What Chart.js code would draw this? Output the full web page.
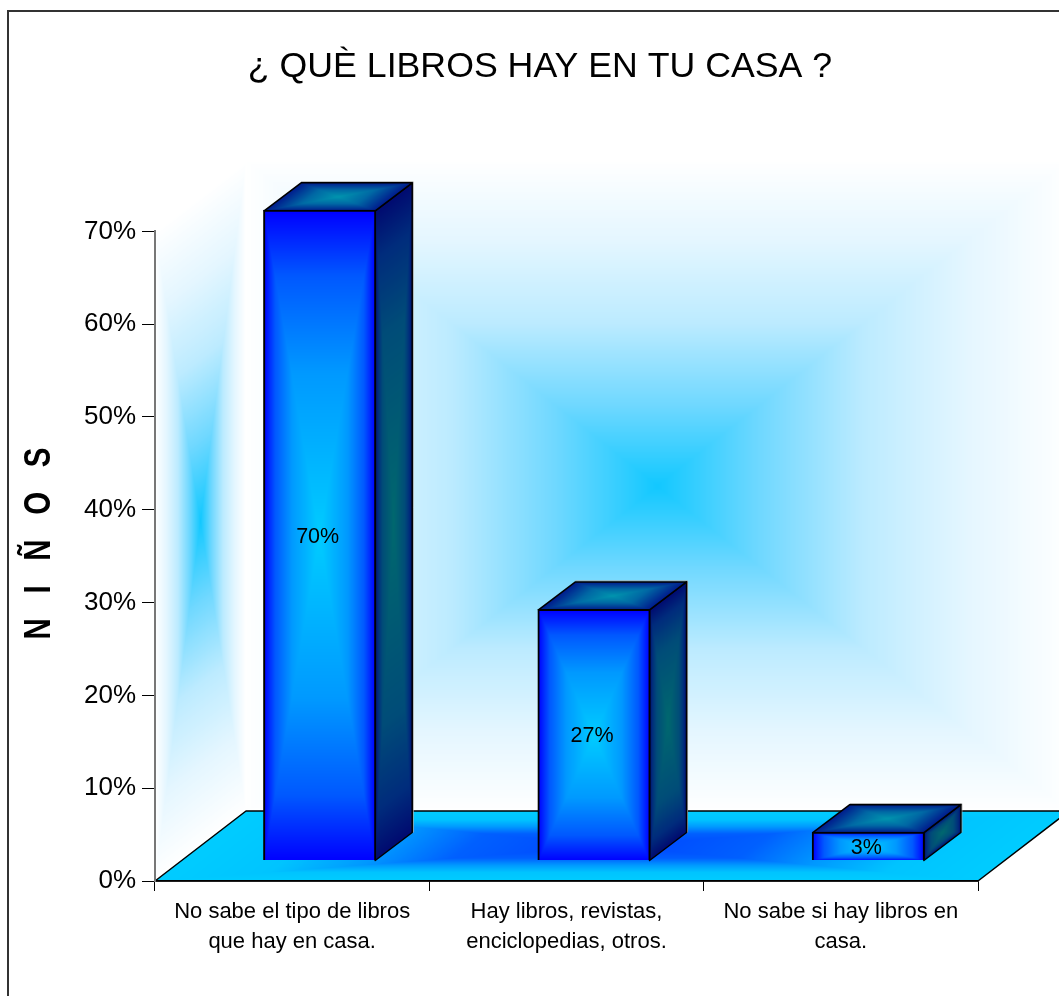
<!DOCTYPE html>
<html><head><meta charset="utf-8">
<style>html,body{margin:0;padding:0;background:#fff;overflow:hidden}#w{position:absolute;left:0;top:0;width:1059px;height:996px}</style>
<script src="https://cdn.jsdelivr.net/npm/chart.js@4/dist/chart.umd.min.js"></script>
</head><body><div id="w"><canvas id="c" width="1059" height="996"></canvas></div>
<script>
const categories = [['No sabe el tipo de libros','que hay en casa.'],['Hay libros, revistas,','enciclopedias, otros.'],['No sabe si hay libros en','casa.']];
const percentValues = [70, 27, 3];
const yTicks = [0,10,20,30,40,50,60,70];
const chartTitle = '¿ QUÈ LIBROS HAY EN TU CASA ?';
const yTitle = 'N   I   Ñ   O   S';
const FONT = '"Liberation Sans", Arial, sans-serif';
const DEPTH = {x:91, y:-70};
const BAR_SHIFT = {x:27.5, y:-20.5};
const BAR_DEPTH = {x:37, y:-28};

function hex(c){return [1,3,5].map(i=>parseInt(c.substr(i,2),16));}
function tex(w,h,stops){
  w=Math.max(2,Math.round(w));h=Math.max(2,Math.round(h));
  const cv=document.createElement('canvas');cv.width=w;cv.height=h;
  const g=cv.getContext('2d'),im=g.createImageData(w,h),s=stops.map(a=>[a[0],hex(a[1])]);
  let p=0;
  for(let y=0;y<h;y++)for(let x=0;x<w;x++){
    const t=Math.max(Math.abs((x+.5)/w*2-1),Math.abs((y+.5)/h*2-1));
    let i=0;while(i<s.length-2&&t>s[i+1][0])i++;
    const f=(t-s[i][0])/(s[i+1][0]-s[i][0]);
    for(let k=0;k<3;k++)im.data[p++]=s[i][1][k]+(s[i+1][1][k]-s[i][1][k])*f;
    im.data[p++]=255;
  }
  g.putImageData(im,0,0);return cv;
}
const WALL=[[0,'#12c8ff'],[.25,'#70d8ff'],[.5,'#bcebff'],[.75,'#e4f6ff'],[1,'#ffffff']];
const FLOOR=[[0,'#0044ff'],[.35,'#0060ff'],[.55,'#0099ff'],[.75,'#00c4ff'],[1,'#00ccff']];
const FRONT=[[0,'#00ccff'],[.5,'#0099ff'],[.8,'#0058ff'],[1,'#0000ff']];
const SIDE=[[0,'#00686e'],[.6,'#004c78'],[.85,'#002c7c'],[1,'#000a70']];
const TOP=[[0,'#0094ae'],[.5,'#0068a4'],[1,'#001a8c']];

function face(ctx,t,o,u,v,stroke){
  ctx.save();ctx.transform(u.x,u.y,v.x,v.y,o.x,o.y);
  ctx.drawImage(t,0,0,1,1);ctx.restore();
  if(stroke){ctx.save();ctx.beginPath();ctx.moveTo(o.x,o.y);ctx.lineTo(o.x+u.x,o.y+u.y);ctx.lineTo(o.x+u.x+v.x,o.y+u.y+v.y);ctx.lineTo(o.x+v.x,o.y+v.y);ctx.closePath();
    ctx.strokeStyle='#000';ctx.lineWidth=stroke;ctx.lineJoin='round';ctx.stroke();ctx.restore();}
}
const BAR_PCT=.405;
function barBox(chart,i){
  const x=chart.scales.x,y=chart.scales.y,w=(x.right-x.left)/categories.length*BAR_PCT;
  const c=x.getPixelForValue(i);
  return {l:c-w/2,r:c+w/2,t:y.getPixelForValue(percentValues[i]),b:y.getPixelForValue(0)};
}
const scene={
  id:'scene',
  afterLayout(chart){ chart.scales.y.left=60; },
  beforeDraw(chart){
    const ctx=chart.ctx,a=chart.chartArea,W=a.right-a.left,H=a.bottom-a.top;
    ctx.save();ctx.fillStyle='#fff';ctx.fillRect(0,0,chart.width,chart.height);
    ctx.strokeStyle='#333';ctx.lineWidth=2;ctx.beginPath();ctx.moveTo(8,996);ctx.lineTo(8,11);ctx.lineTo(1059,11);ctx.stroke();
    const wt=tex(W/2,H/2,WALL);
    face(ctx,wt,{x:a.left+DEPTH.x,y:a.top+DEPTH.y},{x:W,y:0},{x:0,y:H});
    face(ctx,wt,{x:a.left,y:a.top},{x:DEPTH.x,y:DEPTH.y},{x:0,y:H});
    face(ctx,tex(W/2,70,FLOOR),{x:a.left+DEPTH.x,y:a.bottom+DEPTH.y},{x:W,y:0},{x:-DEPTH.x,y:-DEPTH.y},1.5);
    ctx.restore();
  },
  beforeDatasetsDraw(chart){
    const ctx=chart.ctx;
    ctx.save();ctx.translate(BAR_SHIFT.x,BAR_SHIFT.y);
    percentValues.forEach((v,i)=>{
      const b=barBox(chart,i);
      ctx.save();ctx.strokeStyle='#a8a8a8';ctx.lineWidth=1;ctx.beginPath();
      ctx.moveTo(b.l+BAR_DEPTH.x,b.t+BAR_DEPTH.y-1);ctx.lineTo(b.r+BAR_DEPTH.x+1,b.t+BAR_DEPTH.y-1);ctx.lineTo(b.r+BAR_DEPTH.x+1,b.b+BAR_DEPTH.y);ctx.stroke();ctx.restore();
      face(ctx,tex(37,(b.b-b.t)/2,SIDE),{x:b.r,y:b.t},BAR_DEPTH,{x:0,y:b.b-b.t},1.5);
      face(ctx,tex(b.r-b.l,28,TOP),{x:b.l,y:b.t},{x:b.r-b.l,y:0},BAR_DEPTH,1.5);
    });
  },
  afterDatasetsDraw(chart){
    const ctx=chart.ctx;
    ctx.fillStyle='#000';ctx.font='21.5px '+FONT;ctx.textAlign='center';ctx.textBaseline='middle';
    percentValues.forEach((v,i)=>{
      const b=barBox(chart,i);
      ctx.fillText(v+'%',(b.l+b.r)/2-2,(b.t+b.b)/2+1);
    });
    ctx.restore();
    ctx.save();ctx.translate(39.5,543.5);ctx.rotate(-Math.PI/2);ctx.scale(1,1.25);
    ctx.fillStyle='#000';ctx.font='bold 29.5px '+FONT;ctx.textAlign='center';ctx.textBaseline='middle';
    ctx.fillText(yTitle,0,0);ctx.restore();
  }
};
new Chart(document.getElementById('c'),{
  type:'bar',
  data:{labels:categories,datasets:[{
    data:percentValues,
    borderColor:'#000',borderWidth:2,inflateAmount:1,
    backgroundColor(c){
      if(c.dataIndex===undefined||!c.chart.chartArea)return '#0000ff';
      const b=barBox(c.chart,c.dataIndex);
      const t=tex(b.r-b.l,b.b-b.t,FRONT);
      const p=c.chart.ctx.createPattern(t,'no-repeat');
      p.setTransform(new DOMMatrix().translate(b.l,b.t).scale((b.r-b.l)/t.width,(b.b-b.t)/t.height));
      return p;
    },
    barPercentage:BAR_PCT,categoryPercentage:1,clip:false
  }]},
  options:{
    responsive:false,animation:false,devicePixelRatio:1,
    layout:{padding:{left:102,right:81,top:0,bottom:0}},
    plugins:{legend:{display:false},tooltip:{enabled:false},
      title:{display:true,text:chartTitle,color:'#000',font:{family:FONT,size:35.7,weight:'normal'},padding:{top:46,bottom:142.5},fullSize:true}},
    scales:{
      x:{offset:true,afterFit(s){s.height=115;},
        grid:{drawOnChartArea:false,color:'#000',tickLength:10,tickWidth:1},border:{color:'#000',width:1.5},
        ticks:{color:'#000',font:{family:FONT,size:22,lineHeight:1.35},padding:6.5,maxRotation:0,autoSkip:false}},
      y:{min:0,max:70,afterFit(s){s.width=53;},
        afterBuildTicks(s){s.ticks=yTicks.map(v=>({value:v}));},
        grid:{drawOnChartArea:false,color:'#000',tickLength:13,tickWidth:1},border:{color:'#777',width:2},
        ticks:{color:'#000',font:{family:FONT,size:26},padding:6,callback:v=>v+'%'}}
    }
  },
  plugins:[scene]
});
</script></body></html>
